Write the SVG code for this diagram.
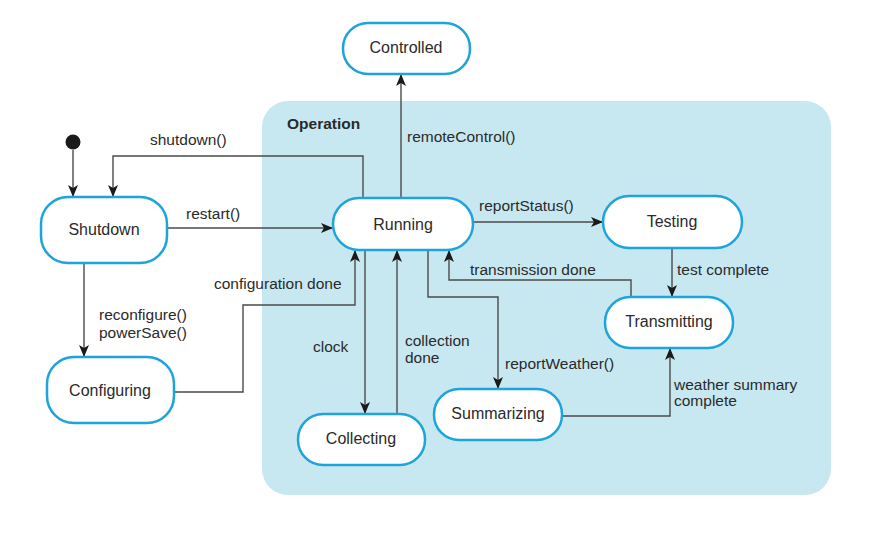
<svg xmlns="http://www.w3.org/2000/svg" width="871" height="539" viewBox="0 0 871 539">
<style>
.node{fill:#fff;stroke:#1ea4dc;stroke-width:2.5}
.lbl{font-family:"Liberation Sans",Arial,sans-serif;font-size:15.5px;fill:#2a2a2a}
.nl{font-family:"Liberation Sans",Arial,sans-serif;font-size:16px;fill:#2a2a2a;text-anchor:middle}
.edge{fill:none;stroke:#4a4a4a;stroke-width:1.4}
</style>
<defs>
<marker id="arr" viewBox="0 0 12 10" refX="11" refY="5" markerWidth="12" markerHeight="10" markerUnits="userSpaceOnUse" orient="auto">
<path d="M0,0 L12,5 L0,10 L3,5 Z" fill="#1a1a1a"/>
</marker>
</defs>
<rect width="871" height="539" fill="#fff"/>
<g id="operation">
<rect x="262" y="101" width="569" height="394" rx="26" fill="#c8e8f1"/>
<text x="287" y="129" class="lbl" style="font-weight:bold">Operation</text>
</g>
<g id="connectors">
<circle cx="73" cy="142" r="7.5" fill="#1a1a1a"/>
<path class="edge" d="M73,150 V196" marker-end="url(#arr)"/>
<path class="edge" d="M363,198 V156 H113 V196" marker-end="url(#arr)"/>
<path class="edge" d="M167,228 H332" marker-end="url(#arr)"/>
<path class="edge" d="M401,198 V75" marker-end="url(#arr)"/>
<path class="edge" d="M473,222 H602" marker-end="url(#arr)"/>
<path class="edge" d="M672,248 V296" marker-end="url(#arr)"/>
<path class="edge" d="M631,297 V280 H449 V251" marker-end="url(#arr)"/>
<path class="edge" d="M428,250 V297 H498 V388" marker-end="url(#arr)"/>
<path class="edge" d="M562,416 H670 V349" marker-end="url(#arr)"/>
<path class="edge" d="M84,263 V356" marker-end="url(#arr)"/>
<path class="edge" d="M174,392 H243 V305 H355 V251" marker-end="url(#arr)"/>
<path class="edge" d="M365,250 V413" marker-end="url(#arr)"/>
<path class="edge" d="M397,414 V251" marker-end="url(#arr)"/>
<text x="150" y="145" class="lbl">shutdown()</text>
<text x="186" y="219" class="lbl">restart()</text>
<text x="407" y="142" class="lbl">remoteControl()</text>
<text x="479" y="211" class="lbl">reportStatus()</text>
<text x="677" y="275" class="lbl">test complete</text>
<text x="470" y="275" class="lbl">transmission done</text>
<text x="214" y="289" class="lbl">configuration done</text>
<text x="99" y="320" class="lbl">reconfigure()</text>
<text x="99" y="338" class="lbl">powerSave()</text>
<text x="313" y="352" class="lbl">clock</text>
<text x="405" y="346" class="lbl">collection</text>
<text x="405" y="363" class="lbl">done</text>
<text x="505" y="369" class="lbl">reportWeather()</text>
<text x="674" y="390" class="lbl">weather summary</text>
<text x="674" y="406" class="lbl">complete</text>
</g>
<g id="controlled"><rect class="node" x="343" y="23" width="127" height="51" rx="25"/><text class="nl" x="406" y="53">Controlled</text></g>
<g id="shutdown"><rect class="node" x="41" y="197" width="126" height="66" rx="27"/><text class="nl" x="104" y="235">Shutdown</text></g>
<g id="running"><rect class="node" x="333" y="198" width="140" height="52" rx="26"/><text class="nl" x="403" y="230">Running</text></g>
<g id="testing"><rect class="node" x="603" y="196" width="139" height="52" rx="26"/><text class="nl" x="672" y="227">Testing</text></g>
<g id="transmitting"><rect class="node" x="605" y="297" width="128" height="51" rx="25"/><text class="nl" x="669" y="327">Transmitting</text></g>
<g id="configuring"><rect class="node" x="47" y="357" width="127" height="66" rx="27"/><text class="nl" x="110" y="396">Configuring</text></g>
<g id="collecting"><rect class="node" x="298" y="414" width="127" height="51" rx="25"/><text class="nl" x="361" y="444">Collecting</text></g>
<g id="summarizing"><rect class="node" x="434" y="389" width="128" height="51" rx="25"/><text class="nl" x="498" y="419">Summarizing</text></g>
</svg>
